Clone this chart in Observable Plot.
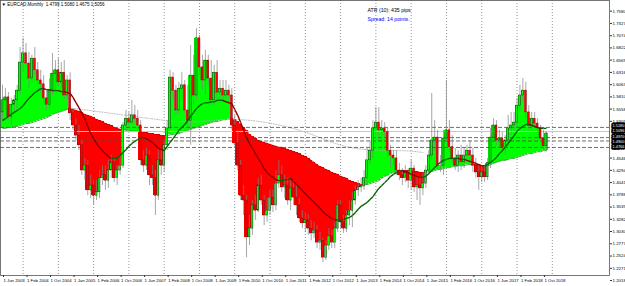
<!DOCTYPE html>
<html><head><meta charset="utf-8">
<script src="https://cdn.jsdelivr.net/npm/d3@7"></script>
<script src="https://cdn.jsdelivr.net/npm/@observablehq/plot@0.6"></script>
<style>
html,body{margin:0;padding:0;background:#fff;}
#chart{width:625px;height:286px;overflow:hidden;}
</style></head><body><div id="chart"></div>
<script>
// Monthly bars, index 0 = Jun 2003 ... index 185 = Nov 2018
const open = [
1.549,1.574,1.580,1.539,1.565,1.574,1.594,
1.652,1.671,1.650,1.619,1.660,1.636,1.615,1.607,1.578,1.565,1.594,1.629,
1.636,1.611,1.631,1.584,1.615,1.547,1.522,1.501,1.481,1.429,1.439,1.388,
1.398,1.377,1.384,1.413,1.419,1.408,1.429,1.446,1.413,1.429,1.439,1.522,
1.536,1.528,1.543,1.536,1.522,1.450,1.439,1.460,1.419,1.413,1.377,1.450,
1.439,1.481,1.516,1.621,1.594,1.553,1.598,1.605,1.553,1.532,1.625,1.584,
1.702,1.642,1.615,1.656,1.619,1.574,1.631,1.590,1.598,1.584,1.594,1.584,
1.522,1.485,1.439,1.377,1.367,1.291,1.309,1.357,1.346,1.398,1.367,1.336,
1.346,1.373,1.357,1.402,1.419,1.394,1.398,1.367,1.392,1.373,1.357,1.330,
1.320,1.326,1.309,1.299,1.305,1.280,1.284,1.249,1.274,1.293,1.280,1.309,
1.357,1.322,1.309,1.336,1.346,1.367,1.388,1.394,1.396,1.413,1.450,1.470,
1.516,1.528,1.512,1.516,1.508,1.470,1.460,1.454,1.429,1.419,1.413,1.425,
1.408,1.433,1.394,1.398,1.392,1.402,1.429,1.460,1.491,1.497,1.439,1.439,
1.495,1.512,1.477,1.454,1.439,1.460,1.446,1.460,1.470,1.460,1.439,1.425,
1.415,1.425,1.415,1.444,1.497,1.522,1.491,1.495,1.475,1.491,1.516,1.522,
1.528,1.563,1.584,1.594,1.549,1.522,1.536,1.526,1.516,1.495,1.4799];
const high = [
1.605,1.598,1.590,1.578,1.584,1.605,1.683,
1.702,1.691,1.673,1.667,1.683,1.652,1.636,1.625,1.594,1.619,1.671,1.656,
1.660,1.652,1.656,1.625,1.631,1.557,1.536,1.522,1.491,1.454,1.450,1.419,
1.408,1.408,1.429,1.439,1.439,1.450,1.460,1.454,1.439,1.460,1.528,1.553,
1.549,1.574,1.563,1.553,1.532,1.470,1.475,1.470,1.439,1.429,1.470,1.470,
1.491,1.532,1.636,1.631,1.605,1.611,1.631,1.615,1.605,1.687,1.667,1.722,
1.708,1.667,1.677,1.667,1.656,1.646,1.656,1.615,1.615,1.615,1.605,1.598,
1.543,1.512,1.450,1.398,1.377,1.336,1.367,1.377,1.413,1.419,1.377,1.371,
1.388,1.388,1.429,1.450,1.439,1.419,1.413,1.408,1.408,1.398,1.371,1.346,
1.342,1.338,1.326,1.322,1.315,1.301,1.289,1.284,1.309,1.305,1.322,1.367,
1.367,1.336,1.346,1.367,1.384,1.398,1.408,1.413,1.429,1.477,1.491,1.532,
1.559,1.559,1.532,1.528,1.516,1.481,1.470,1.470,1.444,1.433,1.439,1.433,
1.450,1.439,1.419,1.413,1.425,1.439,1.470,1.588,1.532,1.512,1.460,1.512,
1.615,1.532,1.501,1.475,1.470,1.481,1.475,1.481,1.491,1.475,1.454,1.439,
1.439,1.439,1.454,1.516,1.536,1.532,1.512,1.508,1.501,1.543,1.549,1.549,
1.578,1.605,1.619,1.611,1.563,1.549,1.549,1.536,1.522,1.512,1.5080];
const low = [
1.532,1.553,1.532,1.524,1.549,1.553,1.584,
1.631,1.642,1.598,1.611,1.625,1.603,1.590,1.569,1.553,1.557,1.584,1.594,
1.603,1.598,1.574,1.574,1.532,1.512,1.491,1.470,1.419,1.408,1.377,1.371,
1.357,1.367,1.371,1.398,1.388,1.392,1.413,1.404,1.398,1.419,1.433,1.512,
1.516,1.522,1.524,1.512,1.439,1.425,1.429,1.398,1.398,1.336,1.367,1.419,
1.425,1.470,1.512,1.574,1.543,1.543,1.574,1.547,1.516,1.481,1.563,1.574,
1.625,1.594,1.584,1.605,1.563,1.563,1.574,1.574,1.569,1.574,1.574,1.512,
1.475,1.429,1.367,1.336,1.249,1.274,1.295,1.326,1.342,1.357,1.315,1.322,
1.336,1.342,1.346,1.392,1.384,1.371,1.357,1.346,1.357,1.336,1.322,1.309,
1.301,1.295,1.284,1.289,1.268,1.264,1.239,1.243,1.264,1.268,1.268,1.301,
1.309,1.299,1.301,1.315,1.311,1.357,1.375,1.384,1.388,1.398,1.439,1.454,
1.501,1.491,1.491,1.495,1.456,1.435,1.439,1.419,1.408,1.398,1.404,1.392,
1.388,1.384,1.367,1.357,1.377,1.392,1.419,1.450,1.470,1.429,1.425,1.419,
1.487,1.466,1.444,1.429,1.425,1.429,1.433,1.446,1.439,1.425,1.413,1.388,
1.404,1.404,1.408,1.433,1.491,1.481,1.475,1.466,1.460,1.481,1.501,1.508,
1.516,1.549,1.569,1.536,1.512,1.512,1.516,1.505,1.487,1.470,1.4675];
const close = [
1.574,1.580,1.539,1.565,1.574,1.594,1.652,
1.671,1.650,1.619,1.660,1.636,1.615,1.607,1.578,1.565,1.594,1.629,1.636,
1.611,1.631,1.584,1.615,1.547,1.522,1.501,1.481,1.429,1.439,1.388,1.398,
1.377,1.384,1.413,1.419,1.408,1.429,1.446,1.413,1.429,1.439,1.522,1.536,
1.528,1.543,1.536,1.522,1.450,1.439,1.460,1.419,1.413,1.377,1.450,1.439,
1.481,1.516,1.621,1.594,1.553,1.598,1.605,1.553,1.532,1.625,1.584,1.702,
1.642,1.615,1.656,1.619,1.574,1.631,1.590,1.598,1.584,1.594,1.584,1.522,
1.485,1.439,1.377,1.367,1.291,1.309,1.357,1.346,1.398,1.367,1.336,1.346,
1.373,1.357,1.402,1.419,1.394,1.398,1.367,1.392,1.373,1.357,1.330,1.320,
1.326,1.309,1.299,1.305,1.280,1.284,1.249,1.274,1.293,1.280,1.309,1.357,
1.322,1.309,1.336,1.346,1.367,1.388,1.394,1.396,1.413,1.450,1.470,1.516,
1.528,1.512,1.516,1.508,1.470,1.460,1.454,1.429,1.419,1.413,1.425,1.408,
1.433,1.394,1.398,1.392,1.402,1.429,1.460,1.491,1.497,1.439,1.439,1.495,
1.512,1.477,1.454,1.439,1.460,1.446,1.460,1.470,1.460,1.439,1.425,1.415,
1.425,1.415,1.444,1.497,1.522,1.491,1.495,1.475,1.491,1.516,1.522,1.528,
1.563,1.584,1.594,1.549,1.522,1.536,1.526,1.516,1.495,1.479,1.5056];
// slow moving average (boundary of the green/red fill)
const slowMA = [
1.516,1.516,1.518,1.518,1.520,1.520,1.522,
1.524,1.526,1.526,1.528,1.530,1.532,1.534,1.536,1.538,1.541,1.545,1.547,
1.549,1.551,1.553,1.555,1.557,1.555,1.553,1.551,1.549,1.545,1.543,1.541,
1.538,1.534,1.532,1.530,1.526,1.524,1.522,1.518,1.516,1.514,1.514,1.512,
1.512,1.510,1.510,1.510,1.508,1.508,1.508,1.505,1.505,1.503,1.503,1.501,
1.501,1.501,1.503,1.503,1.505,1.505,1.508,1.510,1.512,1.514,1.516,1.518,
1.520,1.522,1.524,1.526,1.528,1.530,1.530,1.532,1.534,1.534,1.536,1.536,
1.534,1.530,1.524,1.518,1.512,1.503,1.499,1.495,1.491,1.489,1.487,1.485,
1.483,1.481,1.479,1.477,1.477,1.475,1.472,1.470,1.468,1.466,1.464,1.460,
1.458,1.454,1.450,1.446,1.441,1.437,1.435,1.431,1.429,1.425,1.423,1.421,
1.417,1.415,1.413,1.408,1.406,1.404,1.402,1.400,1.400,1.400,1.402,1.404,
1.406,1.408,1.413,1.417,1.419,1.423,1.425,1.427,1.429,1.429,1.429,1.429,
1.429,1.427,1.427,1.425,1.425,1.425,1.427,1.427,1.429,1.431,1.431,1.433,
1.435,1.435,1.437,1.437,1.439,1.439,1.439,1.441,1.441,1.441,1.441,1.441,
1.439,1.439,1.439,1.441,1.444,1.446,1.448,1.450,1.450,1.452,1.454,1.454,
1.456,1.458,1.460,1.462,1.464,1.464,1.466,1.468,1.468,1.470,1.470];
// fast moving average (coloured line)
const fastMA = [
1.532,1.536,1.541,1.545,1.549,1.553,1.557,
1.563,1.571,1.578,1.584,1.590,1.594,1.598,1.598,1.596,1.596,1.594,1.594,
1.594,1.592,1.592,1.590,1.588,1.580,1.569,1.559,1.547,1.536,1.520,1.505,
1.495,1.485,1.477,1.470,1.464,1.458,1.454,1.454,1.454,1.460,1.466,1.472,
1.479,1.485,1.489,1.493,1.497,1.497,1.495,1.491,1.487,1.481,1.475,1.472,
1.470,1.479,1.487,1.495,1.503,1.512,1.518,1.524,1.532,1.541,1.549,1.557,
1.563,1.567,1.569,1.569,1.571,1.571,1.574,1.574,1.574,1.571,1.569,1.567,
1.555,1.543,1.528,1.512,1.497,1.485,1.475,1.464,1.454,1.444,1.433,1.425,
1.419,1.415,1.410,1.408,1.408,1.410,1.410,1.413,1.406,1.400,1.394,1.388,
1.381,1.375,1.369,1.363,1.357,1.351,1.344,1.338,1.334,1.330,1.328,1.326,
1.326,1.328,1.330,1.332,1.336,1.342,1.349,1.355,1.359,1.363,1.369,1.375,
1.384,1.392,1.398,1.404,1.410,1.417,1.421,1.425,1.427,1.429,1.427,1.425,
1.421,1.419,1.417,1.415,1.415,1.417,1.423,1.429,1.435,1.441,1.446,1.450,
1.452,1.454,1.454,1.454,1.454,1.452,1.452,1.450,1.448,1.446,1.444,1.441,
1.439,1.439,1.441,1.446,1.450,1.456,1.464,1.470,1.477,1.485,1.493,1.501,
1.510,1.516,1.520,1.524,1.524,1.522,1.520,1.518,1.516,1.516,1.516];
// long (dotted grey) moving average, read at these bar indices
const longMAMonths = [22,37,56,67,81,101,118,135,143];
const longMAValues = [1.559,1.547,1.532,1.530,1.534,1.512,1.477,1.470,1.466];

const dateTickMonths = [0,8,16,24,32,40,48,56,64,72,80,88,96,104,112,120,128,136,144,152,160,168,176,184];
const dateTickLabels = ["1 Jun 2003","1 Feb 2004","1 Oct 2004","1 Jun 2005","1 Feb 2006","1 Oct 2006","1 Jun 2007","1 Feb 2008","1 Oct 2008","1 Jun 2009","1 Feb 2010","1 Oct 2010","1 Jun 2011","1 Feb 2012","1 Oct 2012","1 Jun 2013","1 Feb 2014","1 Oct 2014","1 Jun 2015","1 Feb 2016","1 Oct 2016","1 Jun 2017","1 Feb 2018","1 Oct 2018"];
const yearGridMonths = [7,19,31,43,55,67,79,91,103,115,127,139,151,163,175,187];
// price scale labels (the two hidden under the black level boxes are left out)
const priceTicks = [1.7580,1.7327,1.7074,1.6822,1.6569,1.6316,1.6063,1.5810,1.5558,1.5305,1.4546,1.4294,1.4041,1.3788,1.3535,1.3282,1.3030,1.2777,1.2524,1.2271,1.2018];
const levelLines = [1.5180,1.4970,1.4900,1.4766];
const bidLine = 1.5096;
const levelLabelOrder = [1.5180,1.5096,1.4970,1.4900,1.4766];
const headerText = "\u25BC EURCAD,Monthly  1.4799 1.5080 1.4675 1.5056";
const atrText = "ATR (10): 435 pips";
const spreadText = "Spread: 14 points.";

const LIME = "#00ff00", RED = "#ff0000";
const bars = close.map((c, i) => ({m: i, o: open[i], h: high[i], l: low[i], c, slow: slowMA[i], fast: fastMA[i]}));
const fastSegs = bars.slice(1).map((b, i) => ({m1: i, m2: i + 1, v1: fastMA[i], v2: b.fast, up: b.fast >= fastMA[i]}));
const slowSegs = bars.slice(1).map((b, i) => ({m1: i, m2: i + 1, v1: slowMA[i], v2: b.slow, up: close[i] >= slowMA[i]}));
const longMA = longMAMonths.map((m, i) => ({m, v: longMAValues[i]}));

// black price boxes at the right, stacked in slots so their texts stay apart
const levelLabelMarks = levelLabelOrder.map((v, i) =>
  Plot.text([v], {frameAnchor: "top-right", dx: 3, dy: 125.5 + i * 5.2,
    textAnchor: "start", lineAnchor: "middle",
    text: d => d.toFixed(4), fill: "white", stroke: "black", strokeWidth: 3.4, fontSize: 3.9}));

const chart = Plot.plot({
  width: 625, height: 286,
  marginLeft: 0, marginRight: 16, marginTop: 0, marginBottom: 11,
  x: {domain: [-0.68, 206.46]},
  y: {domain: [1.2122, 1.7801]},
  style: {fontFamily: "Liberation Sans, Arial, sans-serif", background: "#fff", overflow: "visible"},
  marks: [
    Plot.ruleX(yearGridMonths, {stroke: "#666", strokeDasharray: "1,2", strokeWidth: 0.7}),
    Plot.rect(bars, {x1: d => d.m - 0.6, x2: d => d.m + 0.6, y1: "slow", y2: "c",
      fill: d => d.c >= d.slow ? LIME : RED, shapeRendering: "crispEdges"}),
    Plot.link(slowSegs, {x1: "m1", x2: "m2", y1: "v1", y2: "v2",
      stroke: d => d.up ? "#009a00" : "#c00000", strokeWidth: 0.8}),
    Plot.line(longMA, {x: "m", y: "v", curve: "natural", stroke: "#a8a8a8", strokeWidth: 0.8, strokeDasharray: "1,1.5"}),
    Plot.ruleY([bidLine], {stroke: "#c8c8c8", strokeWidth: 1}),
    Plot.ruleY(levelLines, {stroke: "#4a4a4a", strokeDasharray: "4,2", strokeWidth: 0.8}),
    Plot.ruleX(bars, {x: "m", y1: "l", y2: "h", stroke: "#808080", strokeWidth: 0.7}),
    Plot.rect(bars, {x1: d => d.m - 0.33, x2: d => d.m + 0.33, y1: "o", y2: "c",
      fill: d => d.c >= d.o ? LIME : RED,
      stroke: d => d.c >= d.o ? "#1e1e1e" : "#8b0000", strokeWidth: 0.45}),
    Plot.link(fastSegs, {x1: "m1", x2: "m2", y1: "v1", y2: "v2",
      stroke: d => d.up ? "#006400" : "#8b0000", strokeWidth: 1.4}),
    Plot.frame({stroke: "#555", strokeWidth: 0.8}),
    Plot.axisX(dateTickMonths, {anchor: "bottom", tickSize: 2, tickPadding: 1, textAnchor: "start", dx: 1,
      fontSize: 4.3, tickFormat: d => dateTickLabels[dateTickMonths.indexOf(d)], stroke: "#333"}),
    Plot.axisY(priceTicks, {anchor: "right", tickSize: 2, tickPadding: 1, fontSize: 4.4,
      tickFormat: d => d.toFixed(4), stroke: "#333"}),
    ...levelLabelMarks,
    Plot.text([headerText], {frameAnchor: "top-left", dx: 1, dy: 4, textAnchor: "start", lineAnchor: "middle",
      text: d => d, fontSize: 4.5, fill: "#000"}),
    Plot.text([atrText], {frameAnchor: "top-left", dx: 367, dy: 10, textAnchor: "start", lineAnchor: "middle",
      text: d => d, fontSize: 5.2, fill: "#000"}),
    Plot.text([spreadText], {frameAnchor: "top-left", dx: 367, dy: 19, textAnchor: "start", lineAnchor: "middle",
      text: d => d, fontSize: 5.2, fill: "#0000ff"})
  ]
});
document.getElementById("chart").appendChild(chart);
</script></body></html>
